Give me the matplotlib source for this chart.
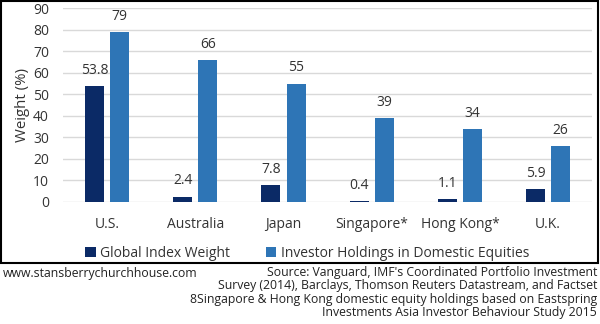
import numpy as np
import matplotlib.pyplot as plt
from matplotlib.patches import Rectangle

plt.rcParams['font.family'] = ['Open Sans', 'DejaVu Sans']

countries = ["U.S.", "Australia", "Japan", "Singapore*", "Hong Kong*", "U.K."]
index_weight = [53.8, 2.4, 7.8, 0.4, 1.1, 5.9]
domestic_holdings = [79, 66, 55, 39, 34, 26]
series_names = ["Global Index Weight", "Investor Holdings in Domestic Equities"]

dark_blue = "#0b2a66"
light_blue = "#2e75b6"
txt = "#333333"

fig = plt.figure(figsize=(6, 3.24), dpi=100)
ax = fig.add_axes([0.105, 0.3775, 0.882, 0.5965])

x = np.arange(len(countries))
w = 0.215
off = 0.142
b1 = ax.bar(x - off, index_weight, w, color=dark_blue, label=series_names[0], zorder=3)
b2 = ax.bar(x + off, domestic_holdings, w, color=light_blue, label=series_names[1], zorder=3)

for bars, vals in [(b1, index_weight), (b2, domestic_holdings)]:
    for rect, v in zip(bars, vals):
        ax.text(rect.get_x() + rect.get_width() / 2, v + 3.8, f"{v:g}",
                ha="center", va="bottom", fontsize=10, color=txt)

ax.set_xlim(-0.5, len(countries) - 0.5)
ax.set_ylim(0, 90)
ax.set_yticks(range(0, 91, 10))
ax.set_xticks(x)
ax.set_xticklabels(countries)
ax.tick_params(length=0, labelsize=10, colors=txt)
ax.tick_params(axis="x", pad=11)
ax.tick_params(axis="y", pad=10)
ax.grid(axis="y", color="#d9d9d9", linewidth=1, zorder=0)
for s in ax.spines.values():
    s.set_visible(False)
ax.set_ylabel("Weight (%)", fontsize=10.8, color=txt, labelpad=2)

fig.legend(loc="center", bbox_to_anchor=(0.512, 0.219), ncol=2, frameon=False,
           fontsize=10, handlelength=0.75, handleheight=0.75, handletextpad=0.3,
           columnspacing=2.6, labelcolor=txt)

# border around the chart area
fig.add_artist(Rectangle((0.001, 1 - 263 / 324), 0.996, 263 / 324 - 0.002,
                         transform=fig.transFigure, fill=False,
                         edgecolor="black", linewidth=1.5))

fig.text(0.004, 1 - 273 / 324, "www.stansberrychurchhouse.com", fontsize=8.8,
         ha="left", va="center", color="#222222")
source = ("Source: Vanguard, IMF's Coordinated Portfolio Investment\n"
          "Survey (2014), Barclays, Thomson Reuters Datastream, and Factset\n"
          "8Singapore & Hong Kong domestic equity holdings based on Eastspring\n"
          "Investments Asia Investor Behaviour Study 2015")
fig.text(0.995, 1 - 266 / 324, source, fontsize=8.8, ha="right", va="top",
         color="#222222", linespacing=1.03)

fig.savefig("out.png", dpi=100)
